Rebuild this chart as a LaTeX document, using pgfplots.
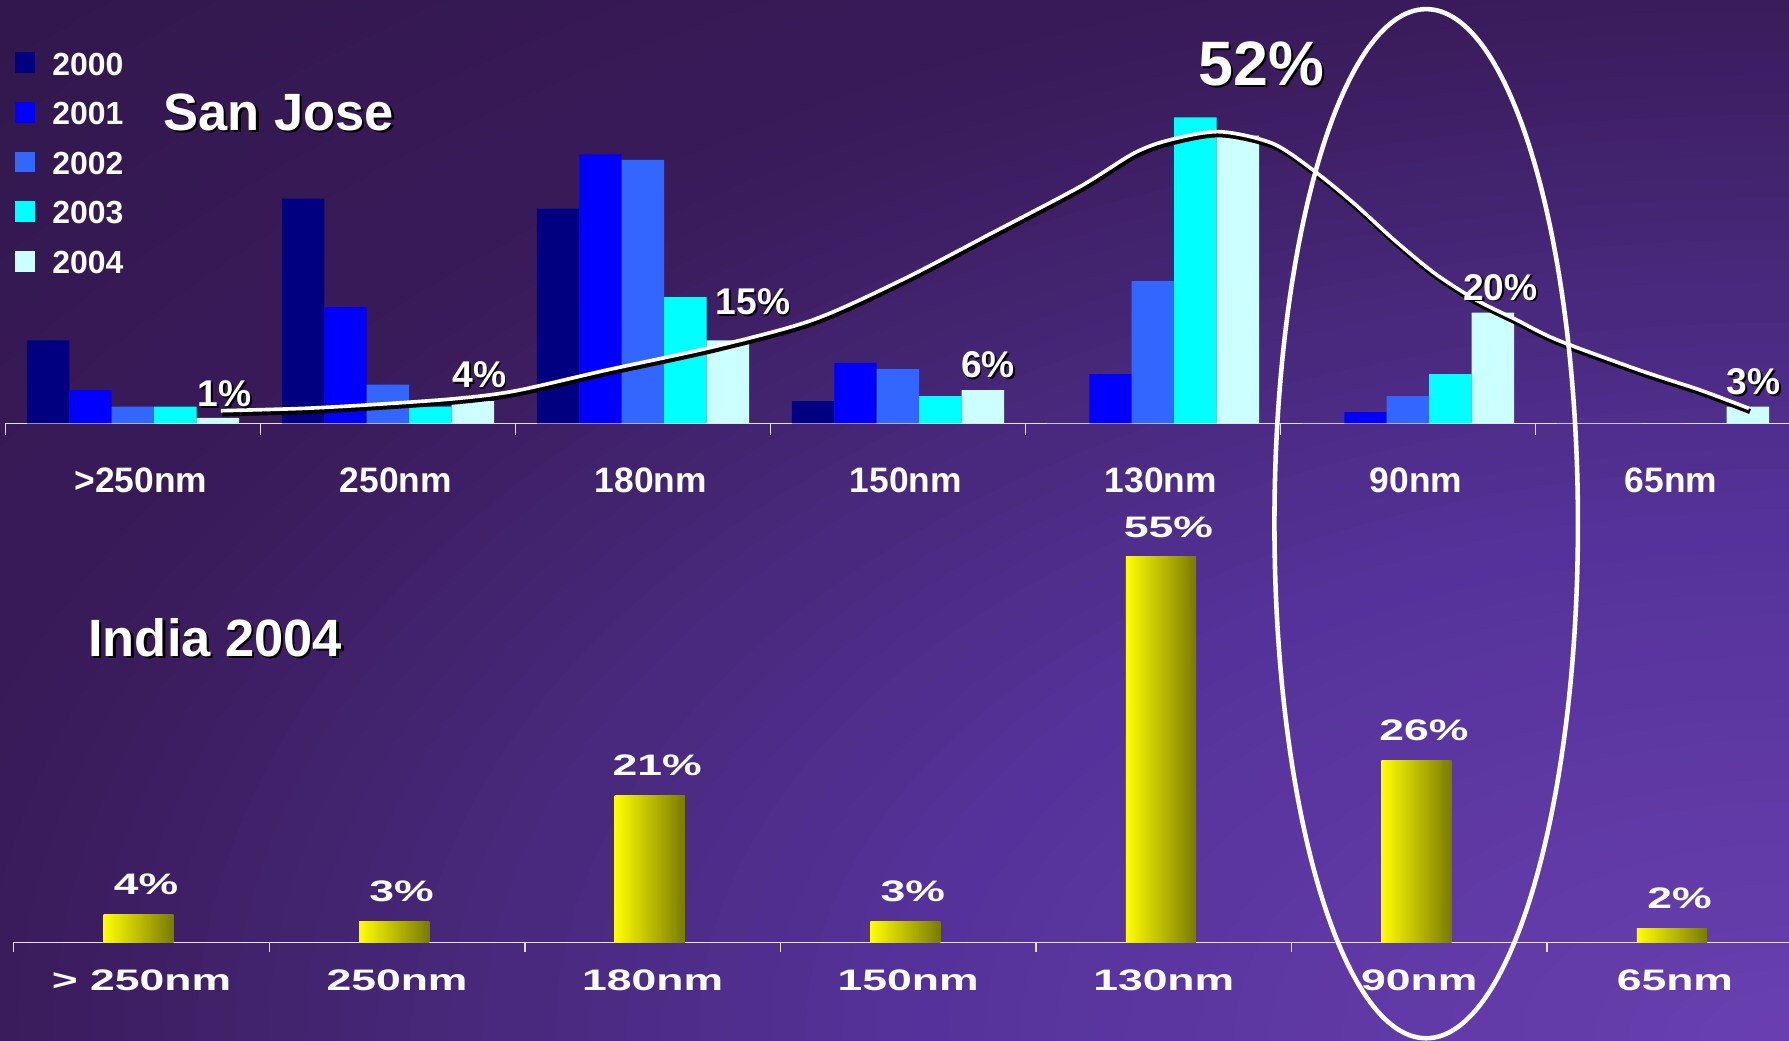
\documentclass[border=0pt]{standalone}
\usepackage{fontspec}
\setmainfont{Liberation Sans}
\newfontfamily\widefont[FakeStretch=1.5]{Liberation Sans}
\usepackage{pgfplots}
\usepackage{pgfplotstable}
\pgfplotsset{compat=1.18}

\definecolor{c2000}{HTML}{000080}
\definecolor{c2001}{HTML}{0000FF}
\definecolor{c2002}{HTML}{3366FF}
\definecolor{c2003}{HTML}{00FFFF}
\definecolor{c2004}{HTML}{CCFFFF}
\definecolor{axisgray}{HTML}{E4E0EC}
\definecolor{yelA}{HTML}{FFFF00}
\definecolor{yelB}{HTML}{E6E600}
\definecolor{yelC}{HTML}{7A7A00}
\definecolor{bgA}{HTML}{6A40B0}
\definecolor{bgB}{HTML}{55329A}
\definecolor{bgC}{HTML}{4A2A80}
\definecolor{bgD}{HTML}{3A1B5C}
\definecolor{bgE}{HTML}{31174B}

% San Jose: share of designs by node (percent), one column per year
\pgfplotstableread{
x  y2000 y2001 y2002 y2003 y2004
0  15    6     3     3     1
1  40.6  21    7     3     4
2  38.8  48.6  47.6  22.8  15
3  4     10.9  9.8   4.9   6
4  0     8.9   25.7  55.3  52
5  0     2     4.9   8.9   20
6  0     0     0     0     3
}\sanjose

% trend curve drawn over the 2004 bars
\pgfplotstableread{
x     y
0.345 2.27
0.679 2.71
0.979 3.49
1.280 4.52
1.505 5.9
1.859 9.63
2.280 13.85
2.665 18.66
3.015 25.9
3.365 34.3
3.715 42.8
3.925 48.8
4.065 51.2
4.260 52.7
4.468 50.6
4.627 45.8
4.787 39.8
4.947 33.1
5.105 27.1
5.267 22.3
5.427 18.66
5.586 15.05
5.906 9.63
6.145 6.02
6.337 2.70
}\trend

% India 2004
\pgfplotstableread{
x y
0 4
1 3
2 21
3 3
4 55
5 26
6 2
}\india

\begin{document}
\begin{tikzpicture}
% background: glow from the lower right corner
\begin{scope}
\clip (0,0) rectangle (784bp,456bp);
\fill[bgE] (0,0) rectangle (784bp,456bp);
\foreach \d in {1.45,1.43,...,1.0}{
  \pgfmathsetmacro\p{(1.45-\d)/0.45*100}
  \fill[bgD!\p!bgE] (784bp,0bp) ellipse [x radius=\d*784bp, y radius=\d*456bp];}
\foreach \d in {0.99,0.97,...,0.71}{
  \pgfmathsetmacro\p{(1-\d)/0.293*100}
  \fill[bgC!\p!bgD] (784bp,0bp) ellipse [x radius=\d*784bp, y radius=\d*456bp];}
\foreach \d in {0.69,0.67,...,0.5}{
  \pgfmathsetmacro\p{(0.707-\d)/0.207*100}
  \fill[bgB!\p!bgC] (784bp,0bp) ellipse [x radius=\d*784bp, y radius=\d*456bp];}
\foreach \d in {0.49,0.47,...,0.01}{
  \pgfmathsetmacro\p{(0.5-\d)/0.5*100}
  \fill[bgA!\p!bgB] (784bp,0bp) ellipse [x radius=\d*784bp, y radius=\d*456bp];}
\end{scope}

% ---------------- San Jose ----------------
\begin{axis}[
  at={(2.375bp,270.5bp)}, anchor=south west, scale only axis,
  width=782.25bp, height=185.5bp,
  xmin=-0.5, xmax=6.5, ymin=0, ymax=76.5,
  axis x line*=bottom, axis y line=none, ytick=\empty,
  x axis line style={-, draw=axisgray, line width=0.6bp},
  xtick={0,...,6},
  xticklabels={>250nm,250nm,180nm,150nm,130nm,90nm,65nm},
  major tick length=0pt,
  minor xtick={-0.5,0.5,...,6.5}, minor tick length=5bp, tick align=outside,
  tick style={draw=axisgray, line width=0.6bp},
  xticklabel style={font=\fontsize{15.5bp}{17bp}\selectfont\bfseries, text=white, inner sep=0pt, yshift=-19.5bp, xshift=3.5bp},
  clip=false,
  legend image code/.code={\fill[#1] (0bp,-4.1bp) rectangle (9bp,4.9bp);},
  legend cell align=left,
  legend style={at={(0,1)}, anchor=north west, xshift=4.1bp, yshift=-22.9bp,
    draw=none, fill=none, inner sep=0pt, outer sep=0pt,
    row sep=11.75bp, column sep=7.5bp,
    font=\fontsize{14bp}{15bp}\selectfont\bfseries, text=white,
    nodes={inner sep=0pt, text height=10bp, text depth=0pt}},
]
\addplot[ybar, bar width=18.6bp, bar shift=-37.2bp, draw=none, fill=c2000] table[x=x, y=y2000] {\sanjose};
\addplot[ybar, bar width=18.6bp, bar shift=-18.6bp, draw=none, fill=c2001] table[x=x, y=y2001] {\sanjose};
\addplot[ybar, bar width=18.6bp, bar shift=0bp, draw=none, fill=c2002] table[x=x, y=y2002] {\sanjose};
\addplot[ybar, bar width=18.6bp, bar shift=18.6bp, draw=none, fill=c2003] table[x=x, y=y2003] {\sanjose};
\addplot[ybar, bar width=18.6bp, bar shift=37.2bp, draw=none, fill=c2004] table[x=x, y=y2004] {\sanjose};
\legend{2000,2001,2002,2003,2004}
\addplot[forget plot, smooth, black, line width=2.2bp, xshift=0.5bp, yshift=-1.4bp] table {\trend};
\addplot[forget plot, smooth, white, line width=1.6bp] table {\trend};

\foreach \px/\py/\txt in {0.253/3.09/1\%, 1.251/6.39/4\%, 2.284/19.59/15\%, 3.246/8.25/6\%, 5.215/22.27/20\%, 6.248/5.15/3\%}{
  \edef\tmp{\noexpand\node[anchor=base west, inner sep=0pt, text=black, xshift=0.8bp, yshift=-0.8bp, font=\noexpand\fontsize{16.3bp}{18bp}\noexpand\selectfont\noexpand\bfseries] at (axis cs:\px,\py) {\txt};
  \noexpand\node[anchor=base west, inner sep=0pt, text=white, font=\noexpand\fontsize{16.3bp}{18bp}\noexpand\selectfont\noexpand\bfseries] at (axis cs:\px,\py) {\txt};}
  \tmp
}
\node[anchor=base west, inner sep=0pt, text=black, xshift=1bp, yshift=-1bp, font=\fontsize{27.5bp}{30bp}\selectfont\bfseries] at (axis cs:4.177,61.03) {52\%};
\node[anchor=base west, inner sep=0pt, text=white, font=\fontsize{27.5bp}{30bp}\selectfont\bfseries] at (axis cs:4.177,61.03) {52\%};
\end{axis}

% ---------------- India 2004 ----------------
\begin{axis}[
  at={(6bp,43bp)}, anchor=south west, scale only axis,
  width=784bp, height=193bp,
  xmin=-0.5, xmax=6.5, ymin=0, ymax=62.8,
  axis x line*=bottom, axis y line=none, ytick=\empty,
  x axis line style={-, draw=axisgray, line width=0.6bp},
  xtick={0,...,6},
  xticklabels={> 250nm,250nm,180nm,150nm,130nm,90nm,65nm},
  major tick length=0pt,
  minor xtick={-0.5,0.5,...,6.5}, minor tick length=4bp, tick align=outside,
  tick style={draw=axisgray, line width=0.6bp},
  xticklabel style={font={\fontsize{13bp}{15bp}\widefont\bfseries}, text=white, inner sep=0pt, yshift=-12bp},
  clip=false,
]
\pgfplotsinvokeforeach{0,...,6}{
\addplot[ybar, bar width=30.75bp, bar shift=-1.25bp, draw=none,
  left color=yelA, middle color=yelB, right color=yelC,
  x filter/.expression={abs(x-#1)<0.1 ? x : nan},
  nodes near coords={\pgfmathprintnumber[assume math mode=true]{\pgfplotspointmeta}\%},
  every node near coord/.append style={font={\fontsize{13bp}{15bp}\widefont\bfseries}, text=white, inner sep=0pt, yshift=8.3bp, xshift=2bp}]
  table[x=x, y=y] {\india};
}
\end{axis}

\node[anchor=base west, inner sep=0pt, text=black, font=\fontsize{23bp}{26bp}\selectfont\bfseries] at (72.5bp,398bp) {San Jose};
\node[anchor=base west, inner sep=0pt, text=white, font=\fontsize{23bp}{26bp}\selectfont\bfseries] at (71.5bp,399bp) {San Jose};
\node[anchor=base west, inner sep=0pt, text=black, font=\fontsize{23bp}{26bp}\selectfont\bfseries] at (39.5bp,167.5bp) {India 2004};
\node[anchor=base west, inner sep=0pt, text=white, font=\fontsize{23bp}{26bp}\selectfont\bfseries] at (38.5bp,168.5bp) {India 2004};

\draw[white, line width=2bp] (625bp,226.5bp) ellipse [x radius=66.5bp, y radius=225.5bp];

\pgfresetboundingbox
\useasboundingbox (0,0) rectangle (784bp,456bp);
\end{tikzpicture}
\end{document}
